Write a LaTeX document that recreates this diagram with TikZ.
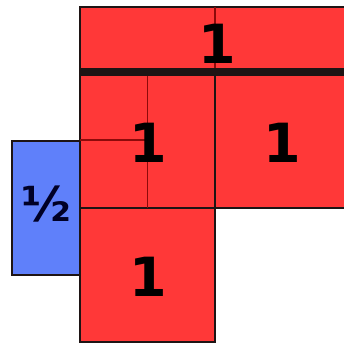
\documentclass[tikz,border=0pt]{standalone}
\usepackage{fontspec}
\setmainfont{DejaVu Sans}
\definecolor{boxred}{RGB}{255,56,56}
\definecolor{boxblue}{RGB}{95,128,250}
\definecolor{edgecol}{RGB}{30,20,20}
\definecolor{thincol}{RGB}{140,10,10}
\begin{document}
\begin{tikzpicture}[x=1pt,y=-1pt,
  redbox/.style={draw=edgecol,fill=boxred,line width=2pt,inner sep=0pt,outer sep=0pt,anchor=north west},
  bluebox/.style={draw=edgecol,fill=boxblue,line width=2pt,inner sep=0pt,outer sep=0pt,anchor=north west},
  lab/.style={font=\fontsize{54}{60}\selectfont\bfseries,text=black,inner sep=0pt},
  half/.style={font=\fontsize{48}{54}\selectfont\bfseries,text=black!85!blue,inner sep=0pt},
  thinline/.style={draw=thincol,line width=1.5pt}]
\clip (0,0) rectangle (344,346);
\fill[white] (0,0) rectangle (344,346);
\node[bluebox,minimum width=68pt,minimum height=134pt] (bl) at (12,141) {};
\node[redbox,minimum width=300pt,minimum height=65pt] (top) at (80,7) {};
\node[redbox,minimum width=135pt,minimum height=136pt] (ml) at (80,72) {};
\node[redbox,minimum width=140pt,minimum height=136pt] (mr) at (215,72) {};
\node[redbox,minimum width=135pt,minimum height=134pt] (bt) at (80,208) {};
\draw[thinline] (ml.north) -- (ml.south);
\draw[thinline] (ml.west) -- (ml.center);
\draw[thinline] (top.north west -| mr.north west) -- (mr.north west);
\draw[edgecol,line width=8pt] (top.south west) -- (top.south east);
\node[lab] (t1) at (217,44) {1};
\node[lab] (m1) at (148,143) {1};
\node[lab] (r1) at (282,143) {1};
\node[lab] (b1) at (148,277) {1};
\node[half] (h) at (46,204) {½};
\end{tikzpicture}
\end{document}
